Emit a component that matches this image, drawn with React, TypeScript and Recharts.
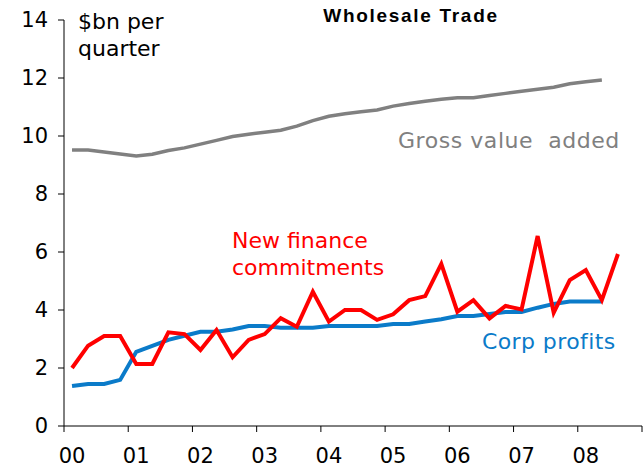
import React from "react";
import { LineChart, Line, XAxis, YAxis } from "recharts";

// quarterly, Mar-2000 .. Dec-2008
const years = ["00", "01", "02", "03", "04", "05", "06", "07", "08"];
const yTicks = [0, 2, 4, 6, 8, 10, 12, 14];

const grossValueAdded = [
    9.52, 9.52, 9.45, 9.38, 9.31, 9.37, 9.5, 9.59, 9.72, 9.85, 9.98, 10.06,
    10.13, 10.2, 10.34, 10.53, 10.68, 10.77, 10.84, 10.9, 11.03, 11.12, 11.2,
    11.27, 11.32, 11.32, 11.4, 11.47, 11.54, 11.61, 11.68, 11.8, 11.87, 11.93,
];
const financeCommitments = [
    2.0, 2.77, 3.1, 3.1, 2.14, 2.14, 3.23, 3.17, 2.62, 3.31, 2.37, 2.97, 3.17,
    3.72, 3.42, 4.63, 3.6, 4.0, 4.0, 3.66, 3.85, 4.34, 4.48, 5.59, 3.94, 4.34,
    3.71, 4.14, 4.02, 6.55, 3.91, 5.03, 5.38, 4.34, 5.93,
];
const corpProfits = [
    1.38, 1.45, 1.45, 1.59, 2.56, 2.76, 2.97, 3.11, 3.25, 3.25, 3.33, 3.45,
    3.45, 3.39, 3.39, 3.39, 3.45, 3.45, 3.45, 3.45, 3.52, 3.52, 3.6, 3.68,
    3.79, 3.79, 3.86, 3.93, 3.93, 4.08, 4.21, 4.29, 4.29, 4.29,
];

const quarters = years.flatMap((y) => ["Q1", "Q2", "Q3", "Q4"].map((q) => `${y}${q}`));

// x is the middle of each quarter's slot on a 0..36 axis
const data = quarters.map((q, i) => ({
    q,
    x: i + 0.5,
    gva: grossValueAdded[i] ?? null,
    nfc: financeCommitments[i] ?? null,
    cp: corpProfits[i] ?? null,
}));

const xTicks = [...years.map((_, i) => i * 4), years.length * 4];

const font = "'DejaVu Sans', Verdana, sans-serif";
const RED = "#ff0000";
const BLUE = "#0b7bc9";
const GREY = "#808080";

const YearTick = (props: any) => {
    const { x, y, payload } = props;
    const i = payload.value / 4;
    if (i >= years.length) return null;
    // label sits over the first quarter of the year
    return (
        <text x={x + 8} y={y} dy="0.71em" textAnchor="middle" fill="#000" fontSize={21} fontFamily={font}>
            {years[i]}
        </text>
    );
};

const App = () => {
    return (
        <div style={{ position: "absolute", left: 0, top: 0, width: 643, height: 469, background: "#fff" }}>
            <LineChart width={643} height={469} data={data} margin={{ top: 20, right: 1, bottom: 13, left: 0 }}>
                <XAxis
                    dataKey="x"
                    type="number"
                    domain={[0, 36]}
                    ticks={xTicks}
                    interval={0}
                    height={30}
                    tickSize={6}
                    tickMargin={16}
                    stroke="#000"
                    tick={<YearTick />}
                />
                <YAxis
                    domain={[0, 14]}
                    ticks={yTicks}
                    interval={0}
                    width={64}
                    tickSize={6}
                    tickMargin={10}
                    stroke="#000"
                    tick={{ fill: "#000", fontSize: 21, fontFamily: font }}
                />
                <Line type="linear" dataKey="gva" stroke={GREY} strokeWidth={3.5} dot={false} isAnimationActive={false} />
                <Line type="linear" dataKey="cp" stroke={BLUE} strokeWidth={4} dot={false} isAnimationActive={false} />
                <Line type="linear" dataKey="nfc" stroke={RED} strokeWidth={4} dot={false} isAnimationActive={false} />
            </LineChart>
            <svg width={643} height={469} style={{ position: "absolute", left: 0, top: 0, pointerEvents: "none" }}>
                <text x={411} y={21.5} textAnchor="middle" fontFamily="'Liberation Sans', Arial, sans-serif" fontWeight="bold" fontSize={19} letterSpacing={1.7} fill="#000">
                    Wholesale Trade
                </text>
                <g fontFamily={font} fontSize={22}>
                    <text x={78} y={29} fill="#000">$bn per</text>
                    <text x={78} y={56} fill="#000">quarter</text>
                    <text x={398} y={148} fill={GREY} letterSpacing={0.55} xmlSpace="preserve">Gross value  added</text>
                    <text x={232} y={248} fill={RED}>New finance</text>
                    <text x={232} y={275} fill={RED}>commitments</text>
                    <text x={482} y={349} fill={BLUE} letterSpacing={0.4}>Corp profits</text>
                </g>
            </svg>
        </div>
    );
};

export default App;
